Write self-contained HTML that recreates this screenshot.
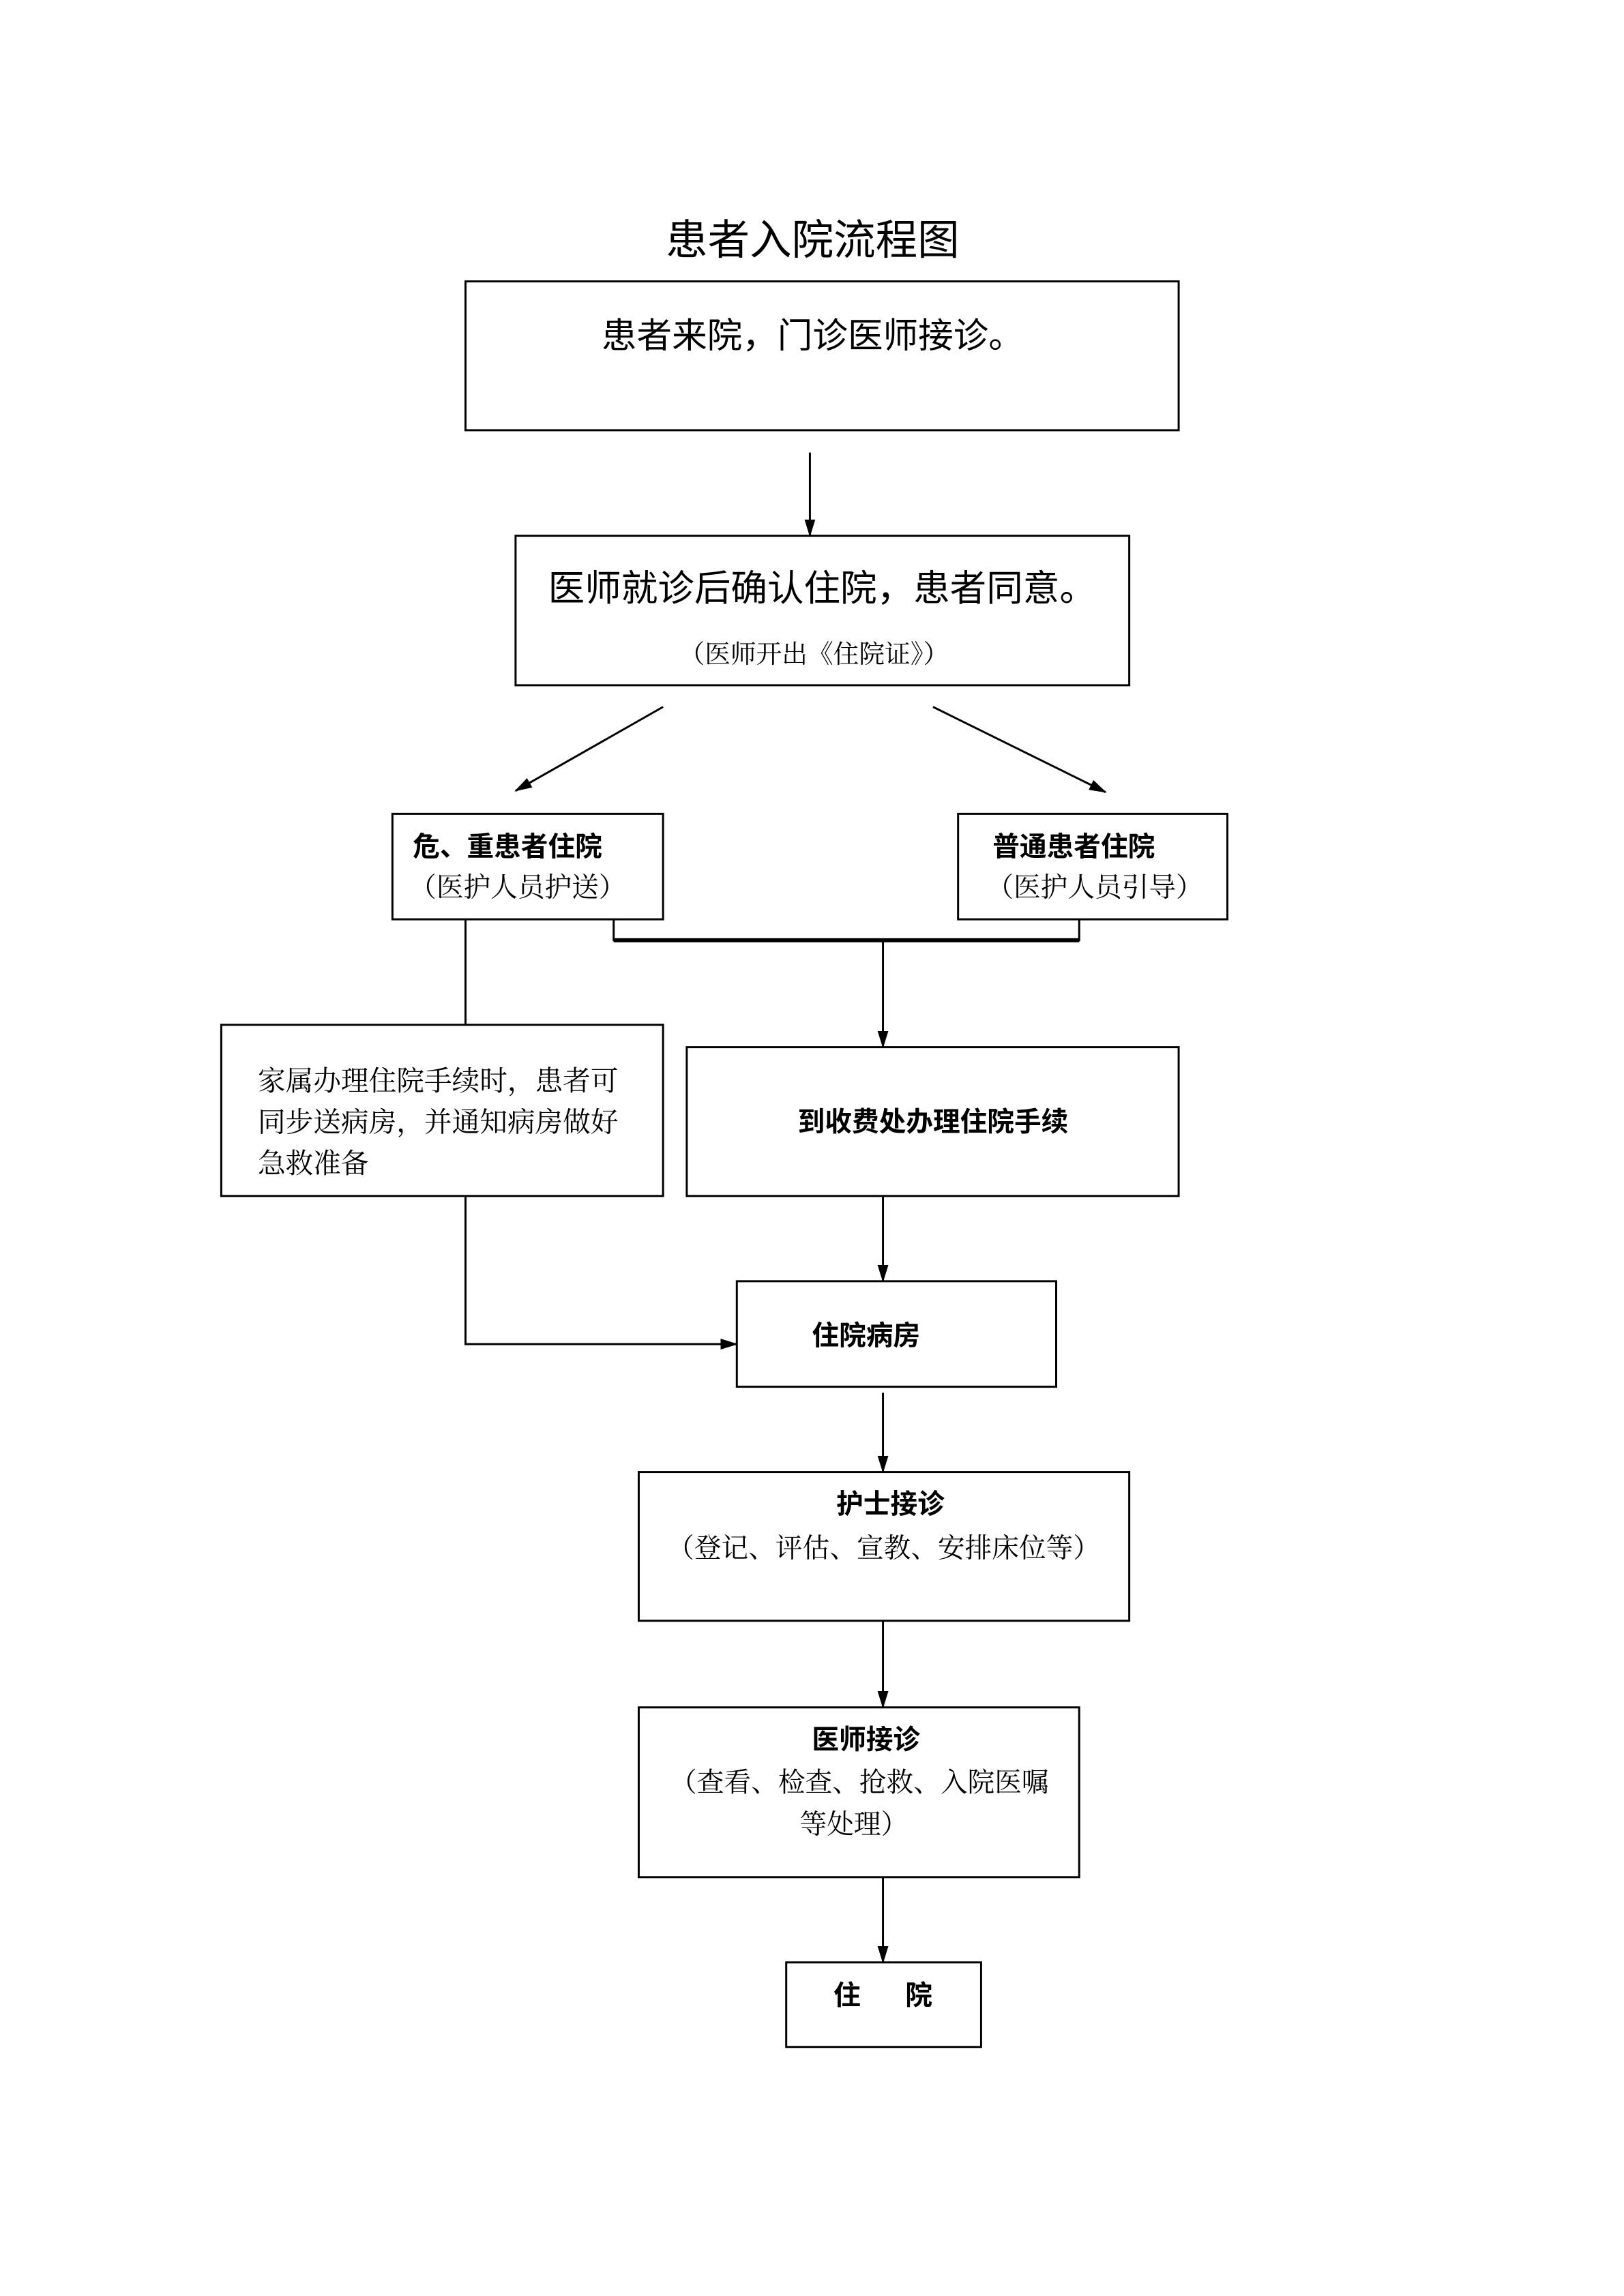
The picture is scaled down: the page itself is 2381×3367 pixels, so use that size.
<!DOCTYPE html>
<html><head><meta charset="utf-8"><style>
html,body{margin:0;padding:0;background:#fff;}
svg{display:block;}
.s{font-family:"Liberation Serif","Noto Serif CJK SC",serif;}
.h{font-family:"Liberation Sans","Noto Sans CJK SC",sans-serif;}
</style></head><body>
<svg width="2381" height="3367" viewBox="0 0 2381 3367" xmlns="http://www.w3.org/2000/svg">
<defs>
<marker id="b" markerWidth="26" markerHeight="26" refX="24" refY="13" orient="auto" markerUnits="userSpaceOnUse"><path d="M0,5 L26,13 L0,21 z" fill="#000"/></marker></defs>
<g transform="scale(0.992)">
<g fill="none" stroke="#000" stroke-width="3">
<rect x="688" y="416" width="1054" height="220"/>
<rect x="762" y="792" width="907" height="221"/>
<rect x="580" y="1203" width="400" height="156"/>
<rect x="1416" y="1203" width="398" height="156"/>
<rect x="327" y="1515" width="653" height="253"/>
<rect x="1015" y="1548" width="727" height="220"/>
<rect x="1089" y="1894" width="472" height="156"/>
<rect x="944" y="2176" width="725" height="220"/>
<rect x="944" y="2524" width="651" height="251"/>
<rect x="1162" y="2901" width="288" height="125"/>
<line x1="1197" y1="669" x2="1197" y2="792" marker-end="url(#b)"/>
<line x1="980" y1="1045" x2="762" y2="1169" marker-end="url(#b)"/>
<line x1="1379" y1="1045" x2="1634" y2="1171" marker-end="url(#b)"/>
<polyline points="907,1359 907,1390 1595,1390 1595,1359"/>
<line x1="907" y1="1390" x2="1595" y2="1390" stroke-width="6"/>
<line x1="1305" y1="1390" x2="1305" y2="1548" marker-end="url(#b)"/>
<line x1="688" y1="1359" x2="688" y2="1515"/>
<line x1="1305" y1="1768" x2="1305" y2="1894" marker-end="url(#b)"/>
<polyline points="688,1768 688,1987 1089,1987" marker-end="url(#b)"/>
<line x1="1305" y1="2059" x2="1305" y2="2176" marker-end="url(#b)"/>
<line x1="1305" y1="2396" x2="1305" y2="2524" marker-end="url(#b)"/>
<line x1="1305" y1="2775" x2="1305" y2="2901" marker-end="url(#b)"/>
</g>
<g fill="#000">
<text class="h" x="1201" y="376" font-size="62" text-anchor="middle">患者入院流程图</text>
<text class="h" x="1201" y="514" font-size="52" text-anchor="middle">患者来院，门诊医师接诊。</text>
<text class="h" x="1215" y="888" font-size="54" text-anchor="middle">医师就诊后确认住院，患者同意。</text>
<text class="s" x="1203" y="980" font-size="38" text-anchor="middle">（医师开出《住院证》）</text>
<text class="h" x="610" y="1265" font-size="40" font-weight="bold">危、重患者住院</text>
<text class="s" x="605" y="1325" font-size="40">（医护人员护送）</text>
<text class="h" x="1467" y="1265" font-size="40" font-weight="bold">普通患者住院</text>
<text class="s" x="1458" y="1325" font-size="40">（医护人员引导）</text>
<text class="s" x="381" y="1612" font-size="41">家属办理住院手续时，患者可</text>
<text class="s" x="381" y="1673" font-size="41">同步送病房，并通知病房做好</text>
<text class="s" x="381" y="1734" font-size="41">急救准备</text>
<text class="h" x="1379" y="1672" font-size="40" font-weight="bold" text-anchor="middle">到收费处办理住院手续</text>
<text class="h" x="1200" y="1988" font-size="40" font-weight="bold">住院病房</text>
<text class="h" x="1316" y="2237" font-size="40" font-weight="bold" text-anchor="middle">护士接诊</text>
<text class="s" x="1306" y="2302" font-size="40" text-anchor="middle">（登记、评估、宣教、安排床位等）</text>
<text class="h" x="1280" y="2585" font-size="40" font-weight="bold" text-anchor="middle">医师接诊</text>
<text class="s" x="1270" y="2648" font-size="40" text-anchor="middle">（查看、检查、抢救、入院医嘱</text>
<text class="s" x="1262" y="2710" font-size="40" text-anchor="middle">等处理）</text>
<text class="h" x="1232" y="2963" font-size="40" font-weight="bold">住</text>
<text class="h" x="1338" y="2963" font-size="40" font-weight="bold">院</text>
</g>
</g>
</svg>
</body></html>
